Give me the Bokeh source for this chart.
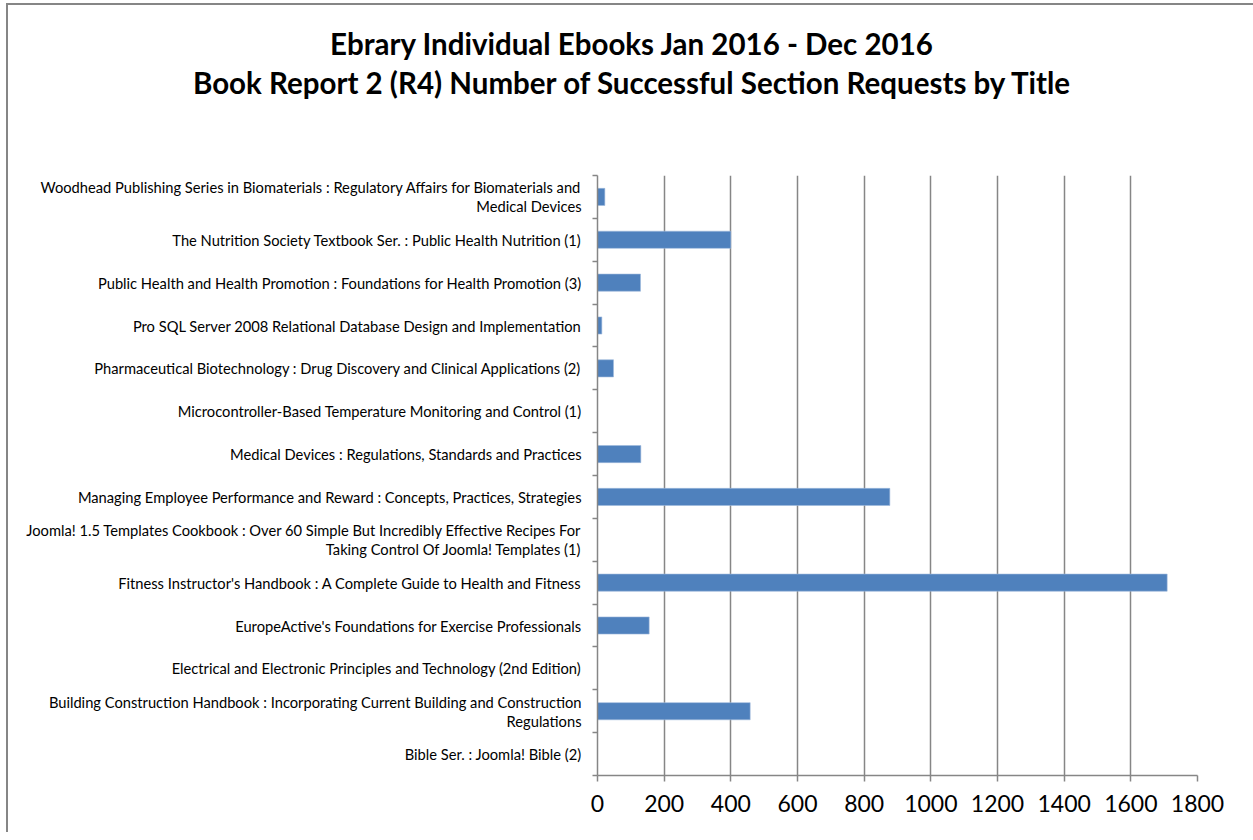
from bokeh.plotting import figure
from bokeh.models import (Range1d, FixedTicker, LinearAxis, ColumnDataSource, Div, Spacer)
from bokeh.layouts import column, row
from bokeh.embed import file_html
from bokeh.resources import INLINE

titles = [
    "Woodhead Publishing Series in Biomaterials : Regulatory Affairs for Biomaterials and\nMedical Devices",
    "The Nutrition Society Textbook Ser. : Public Health Nutrition (1)",
    "Public Health and Health Promotion : Foundations for Health Promotion (3)",
    "Pro SQL Server 2008 Relational Database Design and Implementation",
    "Pharmaceutical Biotechnology : Drug Discovery and Clinical Applications (2)",
    "Microcontroller-Based Temperature Monitoring and Control (1)",
    "Medical Devices : Regulations, Standards and Practices",
    "Managing Employee Performance and Reward : Concepts, Practices, Strategies",
    "Joomla! 1.5 Templates Cookbook : Over 60 Simple But Incredibly Effective Recipes For\nTaking Control Of Joomla! Templates (1)",
    "Fitness Instructor's Handbook : A Complete Guide to Health and Fitness",
    "EuropeActive's Foundations for Exercise Professionals",
    "Electrical and Electronic Principles and Technology (2nd Edition)",
    "Building Construction Handbook : Incorporating Current Building and Construction\nRegulations",
    "Bible Ser. : Joomla! Bible (2)",
]
requests = [22, 400, 129, 13, 48, 0, 130, 877, 0, 1709, 155, 0, 458, 0]
x_ticks = [0, 200, 400, 600, 800, 1000, 1200, 1400, 1600, 1800]

title_line1 = "Ebrary Individual Ebooks Jan 2016 - Dec 2016"
title_line2 = "Book Report 2 (R4) Number of Successful Section Requests by Title"

FONT = "Lato"
GRAY = "#868686"

n = len(titles)
centers = [i + 0.5 for i in range(n)]
bounds = list(range(n + 1))
source = ColumnDataSource(data=dict(pos=centers, requests=requests))

p = figure(
    width=1237, height=667,
    y_range=Range1d(n, 0),
    x_range=Range1d(0, 1800),
    output_backend="svg", toolbar_location=None,
    y_axis_location=None,
    min_border_left=589, min_border_right=48, min_border_top=10, min_border_bottom=57,
)

p.hbar(y="pos", right="requests", height=0.4, left=0, source=source,
       fill_color="#4F81BD", line_color="#9DB8DC", line_width=0.6)

cat_axis = LinearAxis(ticker=FixedTicker(ticks=centers, minor_ticks=bounds))
cat_axis.major_label_overrides = {c: t for c, t in zip(centers, titles)}
cat_axis.axis_line_color = GRAY
cat_axis.axis_line_width = 1.5
cat_axis.major_tick_line_color = None
cat_axis.major_tick_out = 0
cat_axis.major_tick_in = 0
cat_axis.minor_tick_line_color = GRAY
cat_axis.minor_tick_line_width = 1.5
cat_axis.minor_tick_out = 5
cat_axis.minor_tick_in = 0
cat_axis.major_label_text_font = FONT
cat_axis.major_label_text_font_size = "14.7px"
cat_axis.major_label_text_line_height = 1.05
cat_axis.major_label_text_color = "black"
cat_axis.major_label_standoff = 11
p.add_layout(cat_axis, "left")

p.xaxis.ticker = FixedTicker(ticks=x_ticks)
p.xaxis.axis_line_color = GRAY
p.xaxis.axis_line_width = 1.5
p.xaxis.major_tick_line_color = GRAY
p.xaxis.major_tick_line_width = 1.5
p.xaxis.major_tick_out = 6
p.xaxis.major_tick_in = 0
p.xaxis.minor_tick_line_color = None
p.xaxis.major_label_text_font = FONT
p.xaxis.major_label_text_font_size = "23px"
p.xaxis.major_label_text_color = "black"
p.xaxis.major_label_standoff = 13

p.xgrid.grid_line_color = GRAY
p.xgrid.grid_line_width = 1.5
p.ygrid.grid_line_color = None
p.outline_line_color = None

title_div = Div(
    text=f"<div>{title_line1}</div><div>{title_line2}</div>",
    width=1237, height=150,
    styles={"font-family": FONT, "font-weight": "bold", "font-size": "29.5px",
            "line-height": "39px", "text-align": "center", "padding-top": "14px",
            "color": "black"},
)

chart = column(title_div, p, spacing=0,
               styles={"border-left": "2px solid #868686", "border-top": "2px solid #868686"})

layout = column(Spacer(height=3), row(Spacer(width=6), chart, spacing=0), spacing=0)

open("out.html", "w").write(file_html(layout, INLINE))
